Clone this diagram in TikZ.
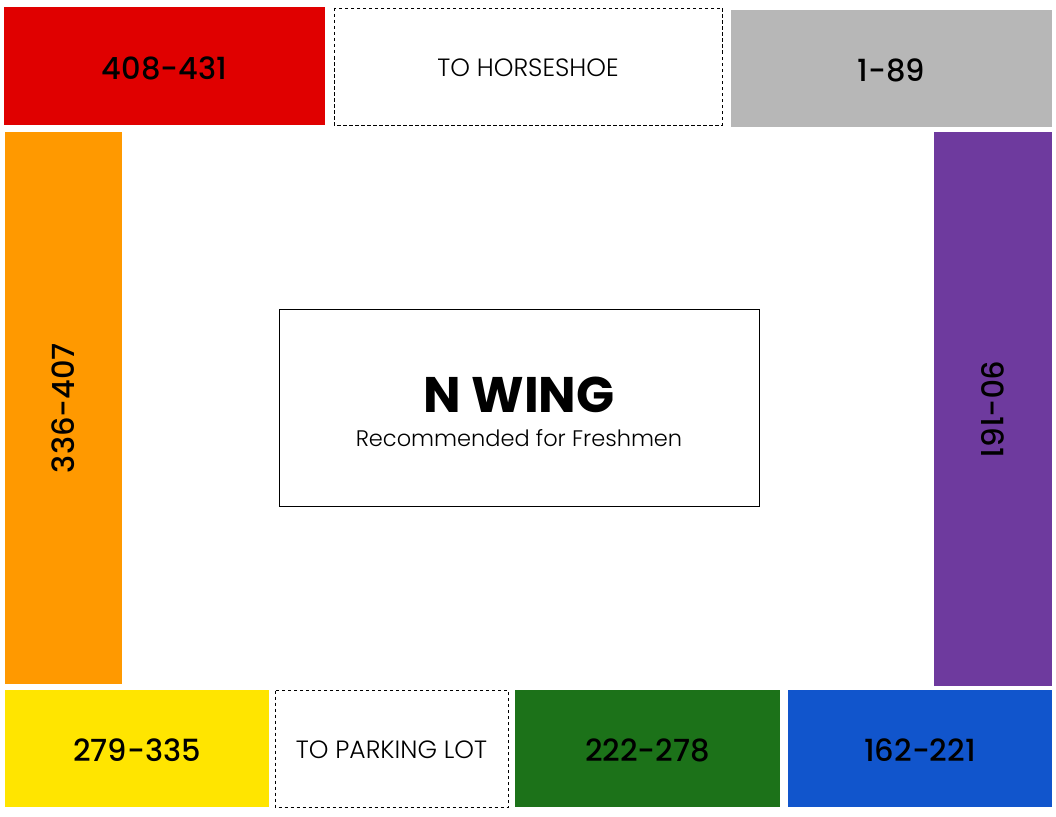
\documentclass[tikz,border=0pt]{standalone}
\usepackage{fontspec}
\setmainfont{Poppins}
\newfontfamily\numfont{Poppins Medium}
\newfontfamily\lightfont{Poppins Light}
\newfontfamily\boldfont{Poppins Bold}
\definecolor{cred}{HTML}{E00000}
\definecolor{cgray}{HTML}{B7B7B7}
\definecolor{corange}{HTML}{FF9900}
\definecolor{cpurple}{HTML}{6E3A9E}
\definecolor{cyellow}{HTML}{FFE500}
\definecolor{cgreen}{HTML}{1C7219}
\definecolor{cblue}{HTML}{1155CC}
\begin{document}
\begin{tikzpicture}[x=1pt,y=-1pt,
  block/.style={draw=none,inner sep=0pt,outer sep=0pt,font=\numfont\fontsize{30.5}{36}\selectfont,text=black},
  exittext/.style={font=\lightfont\fontsize{25}{30}\selectfont},
  exitline/.style={black,dash pattern=on 3.5pt off 2.5pt,line width=0.8pt}]
\useasboundingbox[fill=white] (0,0) rectangle (1056,816);
% colored blocks
\fill[cred] (4,7) rectangle (325,125);
\node[block] (r) at (164.5,68) {408-431};
\draw[exitline] (334,8) rectangle (722,125);
\node[exittext] (hs) at (528,68) {TO HORSESHOE};
\fill[cgray] (731,10) rectangle (1052,127);
\node[block] (g) at (891.5,70) {1-89};
\fill[corange] (5,132) rectangle (122,684);
\node[block,rotate=90] (o) at (63.5,408) {336-407};
\fill[cpurple] (934,132) rectangle (1052,686);
\node[block,rotate=-90] (p) at (993,409) {90-161};
\draw[black,line width=0.8pt] (279,309.5) rectangle (759.5,506);
\node[font=\boldfont\fontsize{50}{54}\selectfont] (nw) at (519,395) {N WING};
\node[font=\lightfont\fontsize{22.5}{26}\selectfont] (rf) at (519,438) {Recommended for Freshmen};
\fill[cyellow] (5,690) rectangle (269,807);
\node[block] (y) at (137,750) {279-335};
\draw[exitline] (275,690.5) rectangle (508.5,807);
\node[exittext] (pl) at (391.5,750) {TO PARKING LOT};
\fill[cgreen] (515,690) rectangle (780,807);
\node[block] (gr) at (647.5,750) {222-278};
\fill[cblue] (788,690) rectangle (1052,807);
\node[block] (b) at (920,750) {162-221};
\end{tikzpicture}
\end{document}
